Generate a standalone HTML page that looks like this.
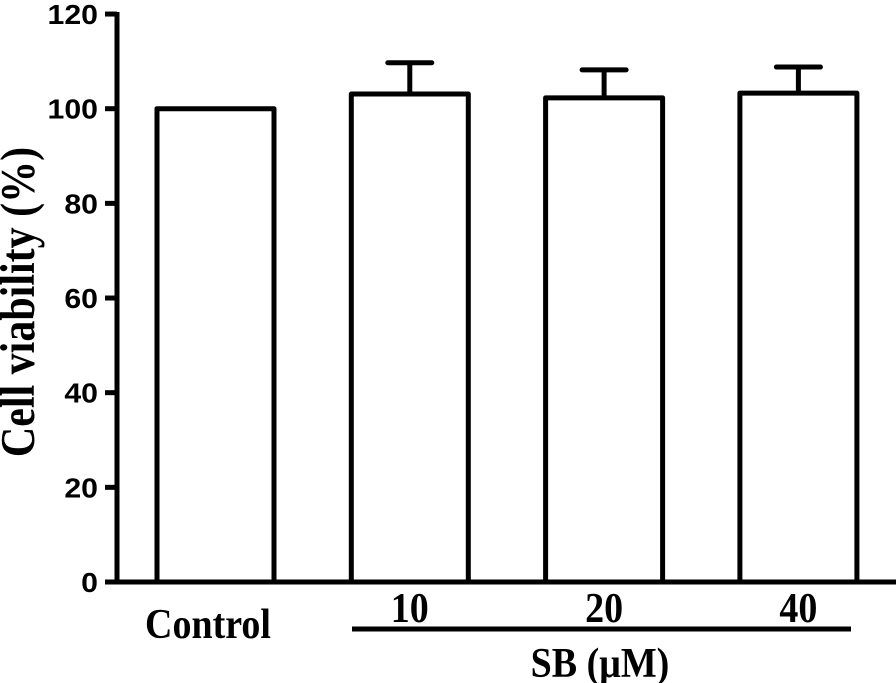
<!DOCTYPE html>
<html><head><meta charset="utf-8"><style>html,body{margin:0;padding:0;background:#fff}svg{display:block}</style></head>
<body>
<svg id="chart" width="896" height="683" viewBox="0 0 896 683" xmlns="http://www.w3.org/2000/svg">
<g id="marks"></g>
<g id="axes"></g>
<text transform="translate(34,302) rotate(-90) scale(1,1.15)" text-anchor="middle" font-family="Liberation Serif, serif" font-weight="bold" font-size="42">Cell viability (%)</text>
<text transform="translate(208,638) scale(1,1.1)" text-anchor="middle" font-family="Liberation Serif, serif" font-weight="bold" font-size="38">Control</text>
<line x1="352" y1="629" x2="851" y2="629" stroke="#000" stroke-width="5"/>
<text transform="translate(600,677) scale(1,1.1)" text-anchor="middle" font-family="Liberation Serif, serif" font-weight="bold" font-size="38">SB (μM)</text>
</svg>
<script>
const categories = ["Control","10","20","40"];
const values = [100, 103.1, 102.3, 103.3];
const errors = [0, 6.6, 5.9, 5.5];
const yTicks = [0,20,40,60,80,100,120];
const NS="http://www.w3.org/2000/svg";
const y0=582, yScale=4.733;
function yPos(v){return y0 - v*yScale;}
const barLeft0=157, barStep=194.3, barW=117;
function xLeft(i){return barLeft0 + i*barStep;}
function mk(t,a,p){const e=document.createElementNS(NS,t);for(const k in a)e.setAttribute(k,a[k]);p.appendChild(e);return e;}
const marks=document.getElementById('marks'), axes=document.getElementById('axes');
categories.forEach((c,i)=>{
  const x=xLeft(i), yt=yPos(values[i]);
  if(errors[i]>0){
    const cx=x+barW/2, ye=yPos(values[i]+errors[i]);
    const l=mk('line',{x1:cx,y1:yt,x2:cx,y2:ye,stroke:'#000','stroke-width':5},marks);
    
    
    const cap=mk('line',{x1:cx-22,y1:ye,x2:cx+22,y2:ye,stroke:'#000','stroke-width':5,'stroke-linecap':'round'},marks);
    
    
  }
  const r=mk('path',{d:`M${x},${y0} L${x},${yt} L${x+barW},${yt} L${x+barW},${y0}`,fill:'#fff',stroke:'#000','stroke-width':5,'stroke-linejoin':'round'},marks);
  
  
  if(i>0){
    const t=mk('text',{transform:`translate(${x+barW/2},622) scale(1,1.1)`,'text-anchor':'middle','font-family':'Liberation Serif, serif','font-weight':'bold','font-size':38},axes);
    t.textContent=c;
    
    
  }
});
const ya=mk('line',{x1:117,y1:yPos(120)-2,x2:117,y2:y0+2.5,stroke:'#000','stroke-width':5},axes);


const xa=mk('line',{x1:106,y1:y0,x2:896,y2:y0,stroke:'#000','stroke-width':5},axes);


yTicks.forEach(v=>{
  const y=yPos(v);
  const tk=mk('line',{x1:105,y1:y,x2:117,y2:y,stroke:'#000','stroke-width':5},axes);
  
  
  const t=mk('text',{transform:`translate(98,${y+10}) scale(1.08,1)`,'text-anchor':'end','font-family':'Liberation Sans, sans-serif','font-weight':'bold','font-size':28},axes);
  t.textContent=v;
  
  
});
</script>
</body></html>
